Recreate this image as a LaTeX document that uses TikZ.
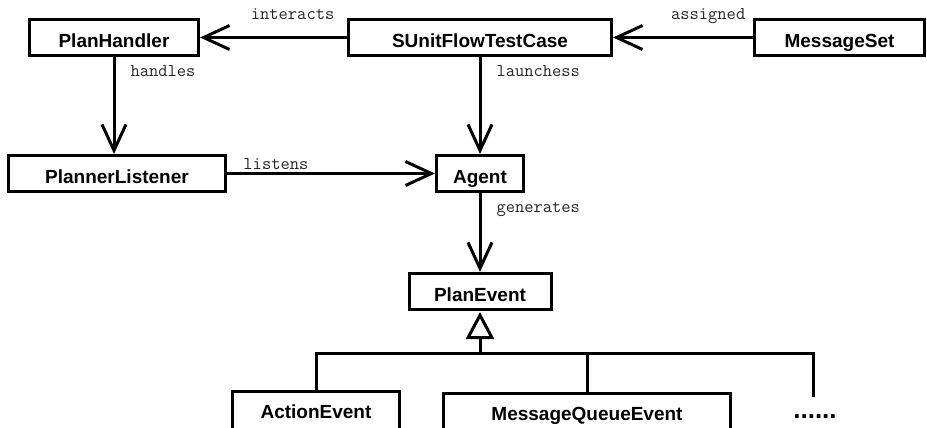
\documentclass[tikz,border=0pt]{standalone}
\usepackage{fontspec}
\setmainfont{Liberation Sans}
\usetikzlibrary{arrows.meta}
\begin{document}
\begin{tikzpicture}[x=1pt,y=-1pt,
  cls/.style={draw, line width=3pt, inner sep=0pt, minimum height=36pt,
    text height=19.5pt, text depth=0pt, font=\fontsize{19}{22}\selectfont\bfseries},
  lowcls/.style={cls, minimum height=0pt, text height=26.5pt, text depth=17pt, anchor=north},
  lbl/.style={font=\fontsize{18}{20}\ttfamily, text=black!85, inner sep=0pt},
  assoc/.style={line width=3pt, -{Straight Barb[length=26pt,width=24pt,line width=3pt]}},
  gen/.style={line width=3pt, -{Triangle[open,length=27pt,width=28pt,line width=3pt]}, shorten >=1pt},
  tree/.style={line width=3pt}]
\path[use as bounding box, fill=white] (0,0) rectangle (927,428);

\node[cls, minimum width=169pt] (ph) at (114,37.5) {PlanHandler};
\node[cls, minimum width=263pt] (su) at (480,37.5) {SUnitFlowTestCase};
\node[cls, minimum width=170pt] (ms) at (839.5,37.5) {MessageSet};
\node[cls, minimum width=217pt] (pl) at (117,173.5) {PlannerListener};
\node[cls, minimum width=87pt] (ag) at (480,173.5) {Agent};
\node[cls, minimum width=142pt] (pe) at (480,291.5) {PlanEvent};
\node[lowcls, minimum width=167pt] (ae) at (316,390) {ActionEvent};
\node[lowcls, minimum width=287pt] (mq) at (587,392) {MessageQueueEvent};
\node[font=\fontsize{26}{28}\selectfont\bfseries, inner sep=0pt, anchor=base] (dots) at (815,418) {......};

\draw[assoc] (su.west) -- node[lbl, pos=0.37, anchor=base, yshift=18pt] {interacts} (ph.east);
\draw[assoc] (ms.west) -- node[lbl, pos=0.32, anchor=base, yshift=18pt] {assigned} (su.east);
\draw[assoc] (ph.south) -- node[lbl, pos=0.2, anchor=base west, xshift=15pt] {handles} (ph.south |- pl.north);
\draw[assoc] (pl.east) -- node[lbl, pos=0.072, anchor=base west, yshift=4pt] {listens} (ag.west);
\draw[assoc] (su.south) -- node[lbl, pos=0.2, anchor=base west, xshift=15pt] {launchess} (ag.north);
\draw[assoc] (ag.south) -- node[lbl, pos=0.25, anchor=base west, xshift=15pt] {generates} (pe.north);

\coordinate (bj) at (480,353);
\coordinate (de) at (813,397);
\draw[tree] (ae.north) |- (bj);
\draw[tree] (mq.north) |- (bj);
\draw[tree] (de) |- (bj);
\draw[gen] (bj) -- (pe.south);
\end{tikzpicture}
\end{document}
